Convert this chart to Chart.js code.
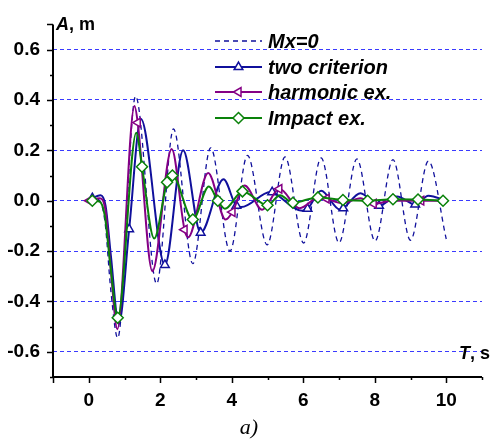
<!DOCTYPE html>
<html>
<head>
<meta charset="utf-8">
<script src="https://cdn.jsdelivr.net/npm/chart.js@4.4.1/dist/chart.umd.min.js"></script>
<style>
  html, body { margin: 0; padding: 0; background: #fff; }
</style>
</head>
<body>
<canvas id="chart" width="494" height="444"></canvas>
<script>
// Amplitude A (m) vs time T (s)
const seriesNames = ['Mx=0', 'two criterion', 'harmonic ex.', 'Impact ex.'];

const xTickLabels = [0, 2, 4, 6, 8, 10];
const yTickLabels = [-0.6, -0.4, -0.2, 0.0, 0.2, 0.4, 0.6];

// Mx=0 (dashed, no markers)
const mx0T = [0, 0.25, 0.45, 0.62, 0.81, 1.31, 1.9, 2.37, 2.91, 3.41, 3.95, 4.44, 4.99, 5.49, 6.01, 6.5, 7.0, 7.5, 8.01, 8.51, 9.0, 9.5, 10.0];
const mx0A = [0, 0.005, -0.08, -0.36, -0.545, 0.415, -0.33, 0.285, -0.25, 0.21, -0.2, 0.18, -0.175, 0.174, -0.168, 0.17, -0.167, 0.166, -0.16, 0.163, -0.157, 0.157, -0.152];

// two criterion
const twoT = [0, 0.33, 0.47, 0.62, 0.84, 1.46, 2.64, 3.77, 4.27, 5.08, 5.97, 6.5, 7.02, 7.6, 8.62, 9.5, 10.0];
const twoA = [0, 0.022, -0.02, -0.22, -0.49, 0.324, 0.2, 0.085, -0.025, 0.035, -0.04, 0.04, -0.035, 0.03, 0.017, 0.02, 0.0];
const twoMarkT = [0.1, 1.13, 2.13, 3.13, 4.13, 5.13, 6.12, 7.12, 8.12, 9.13];
const twoMarkA = [0.01, -0.113, -0.255, -0.127, -0.02, 0.034, -0.032, -0.03, -0.02, -0.015];

// harmonic ex.
const harmT = [0, 0.3, 0.47, 0.62, 0.8, 1.28, 1.78, 2.32, 2.78, 3.34, 3.83, 4.36, 4.85, 5.9, 6.45, 7.1, 7.6, 8.5, 10.0];
const harmA = [0, 0.01, -0.04, -0.28, -0.51, 0.376, -0.28, 0.205, -0.145, 0.11, -0.075, 0.06, -0.036, -0.03, 0.015, -0.01, 0.01, 0.0, 0.0];
const harmMarkT = [0.02, 1.37, 2.68, 4.02, 5.33, 6.65, 7.97, 9.3];
const harmMarkA = [0, 0.31, -0.115, -0.045, 0.047, 0.008, -0.012, 0.0];

// Impact ex.
const impT = [0.3, 0.45, 0.6, 1.33, 1.83, 3.36, 3.81, 5.35];
const impA = [-0.003, -0.06, -0.25, 0.27, -0.15, 0.056, -0.032, 0.022];
const impMarkT = [0.1, 0.81, 1.49, 2.19, 2.34, 2.91, 3.61, 4.3, 5.0, 5.71, 6.41, 7.11, 7.8, 8.51, 9.21, 9.91];
const impMarkA = [0, -0.465, 0.135, 0.073, 0.1, -0.075, 0.0, 0.037, -0.018, -0.008, 0.013, 0.003, 0.0, 0.006, 0.005, 0.0];

const NAVY = '#10109c';
const PURPLE = '#850085';
const GREEN = '#0a820a';
const GRID = '#3a3aff';

function buildPoints(ts, as, markTs, markAs) {
  const pts = ts.map((t, i) => ({ x: t, y: as[i], m: false }));
  (markTs || []).forEach((t, i) => pts.push({ x: t, y: markAs[i], m: true }));
  return pts.sort((a, b) => a.x - b.x);
}

const markRadius = r => ctx => (ctx.raw && ctx.raw.m ? r : 0);

const isLabelTick = (list, v) => list.some(l => Math.abs(l - v) < 1e-6);

// axes, ticks, titles and legend drawn on top
const decorPlugin = {
  id: 'decor',
  afterDraw(chart) {
    const { ctx, chartArea: a, scales: { x, y } } = chart;
    ctx.save();
    ctx.strokeStyle = '#000';
    ctx.lineWidth = 2;
    ctx.beginPath();
    ctx.moveTo(a.left, a.top);
    ctx.lineTo(a.left, a.bottom);
    ctx.lineTo(a.right, a.bottom);
    ctx.stroke();

    ctx.lineWidth = 1.5;
    ctx.beginPath();
    for (let k = -7; k <= 7; k++) {
      const py = Math.round(y.getPixelForValue(k / 10)) + 0.5;
      const len = (k % 2 === 0 || k === 7) ? 6 : 3;
      ctx.moveTo(a.left, py);
      ctx.lineTo(a.left - len, py);
    }
    for (let k = -1; k <= 11; k++) {
      const px = Math.round(x.getPixelForValue(k)) + 0.5;
      const len = (k % 2 === 0 || k === -1) ? 6 : 3;
      ctx.moveTo(px, a.bottom);
      ctx.lineTo(px, a.bottom + len);
    }
    ctx.stroke();

    // axis titles
    ctx.fillStyle = '#000';
    ctx.textBaseline = 'alphabetic';
    ctx.textAlign = 'left';
    const bi = 'italic bold 18px "Liberation Sans", Arial, sans-serif';
    const b = 'bold 18px "Liberation Sans", Arial, sans-serif';
    ctx.font = bi;
    ctx.fillText('A', 56, 30);
    let w = ctx.measureText('A').width;
    ctx.font = b;
    ctx.fillText(', m', 56 + w, 30);

    ctx.font = bi;
    ctx.fillText('T', 459, 359);
    w = ctx.measureText('T').width;
    ctx.font = b;
    ctx.fillText(', s', 459 + w, 359);

    ctx.font = 'italic 22px "Liberation Serif", "Times New Roman", serif';
    ctx.textAlign = 'center';
    ctx.fillText('a)', 249, 434);

    // legend
    const rows = [
      { color: NAVY, dash: [5, 4], width: 1.4, mark: null, y: 41 },
      { color: NAVY, dash: [], width: 2, mark: 'up', y: 67 },
      { color: PURPLE, dash: [], width: 2, mark: 'left', y: 92 },
      { color: GREEN, dash: [], width: 2, mark: 'diamond', y: 118 }
    ];
    rows.forEach((r, i) => {
      ctx.strokeStyle = r.color;
      ctx.lineWidth = r.width;
      ctx.setLineDash(r.dash);
      ctx.beginPath();
      ctx.moveTo(215, r.y);
      ctx.lineTo(262, r.y);
      ctx.stroke();
      ctx.setLineDash([]);
      if (r.mark) drawMarker(ctx, r.mark, 238.5, r.y, r.color);
      ctx.fillStyle = '#000';
      ctx.font = 'italic bold 20px "Liberation Sans", Arial, sans-serif';
      ctx.textAlign = 'left';
      ctx.textBaseline = 'middle';
      ctx.fillText(seriesNames[i], 268, r.y + 1);
    });
    ctx.restore();
  }
};

function drawMarker(ctx, kind, cx, cy, color) {
  ctx.save();
  ctx.fillStyle = '#fff';
  ctx.strokeStyle = color;
  ctx.lineWidth = 1.5;
  ctx.beginPath();
  const r = kind === 'diamond' ? 5.5 : 5;
  if (kind === 'diamond') {
    ctx.moveTo(cx, cy - r); ctx.lineTo(cx + r, cy); ctx.lineTo(cx, cy + r); ctx.lineTo(cx - r, cy);
  } else {
    const rot = kind === 'left' ? -Math.PI / 2 : 0;
    for (let k = 0; k < 3; k++) {
      const ang = rot + k * 2 * Math.PI / 3;
      const px = cx + Math.sin(ang) * r, py = cy - Math.cos(ang) * r;
      if (k === 0) ctx.moveTo(px, py); else ctx.lineTo(px, py);
    }
  }
  ctx.closePath();
  ctx.fill();
  ctx.stroke();
  ctx.restore();
}

new Chart(document.getElementById('chart').getContext('2d'), {
  type: 'line',
  data: {
    datasets: [
      {
        label: seriesNames[3],
        data: buildPoints(impT, impA, impMarkT, impMarkA),
        borderColor: GREEN,
        borderWidth: 2,
        pointStyle: 'rectRot',
        pointRadius: markRadius(5.5),
        pointBackgroundColor: '#fff',
        pointBorderColor: GREEN,
        pointBorderWidth: 1.5,
        order: 0
      },
      {
        label: seriesNames[2],
        data: buildPoints(harmT, harmA, harmMarkT, harmMarkA),
        borderColor: PURPLE,
        borderWidth: 2,
        pointStyle: 'triangle',
        pointRotation: -90,
        pointRadius: markRadius(5),
        pointBackgroundColor: '#fff',
        pointBorderColor: PURPLE,
        pointBorderWidth: 1.5,
        order: 1
      },
      {
        label: seriesNames[1],
        data: buildPoints(twoT, twoA, twoMarkT, twoMarkA),
        borderColor: NAVY,
        borderWidth: 2,
        pointStyle: 'triangle',
        pointRadius: markRadius(5),
        pointBackgroundColor: '#fff',
        pointBorderColor: NAVY,
        pointBorderWidth: 1.5,
        order: 2
      },
      {
        label: seriesNames[0],
        data: buildPoints(mx0T, mx0A),
        borderColor: NAVY,
        borderWidth: 1.3,
        borderDash: [5, 4],
        pointRadius: 0,
        order: 3
      }
    ]
  },
  options: {
    responsive: false,
    animation: false,
    layout: { padding: { top: 14, left: 0, right: 0, bottom: 0 } },
    elements: { line: { cubicInterpolationMode: 'monotone', fill: false } },
    plugins: {
      legend: { display: false },
      tooltip: { enabled: false }
    },
    scales: {
      x: {
        type: 'linear',
        min: -1,
        max: 11,
        afterFit: s => { s.height = 67; },
        grid: { display: false, drawTicks: false },
        border: { display: false },
        ticks: {
          stepSize: 1,
          padding: 12,
          autoSkip: false,
          maxRotation: 0,
          color: '#000',
          font: { family: '"Liberation Sans", Arial, sans-serif', size: 19, weight: 'bold' },
          callback: v => (isLabelTick(xTickLabels, v) ? String(Math.round(v)) : '')
        }
      },
      y: {
        min: -0.7,
        max: 0.7,
        afterFit: s => { s.width = 53; },
        grid: {
          drawTicks: false,
          lineWidth: 1,
          color: c => (isLabelTick(yTickLabels, c.tick.value) ? GRID : 'rgba(0,0,0,0)')
        },
        border: { display: false, dash: [4, 3] },
        ticks: {
          stepSize: 0.1,
          padding: 13,
          autoSkip: false,
          color: '#000',
          font: { family: '"Liberation Sans", Arial, sans-serif', size: 19, weight: 'bold' },
          callback: v => (isLabelTick(yTickLabels, v) ? Number(v).toFixed(1).replace('-0.0', '0.0') : '')
        }
      }
    }
  },
  plugins: [decorPlugin]
});
</script>
</body>
</html>
